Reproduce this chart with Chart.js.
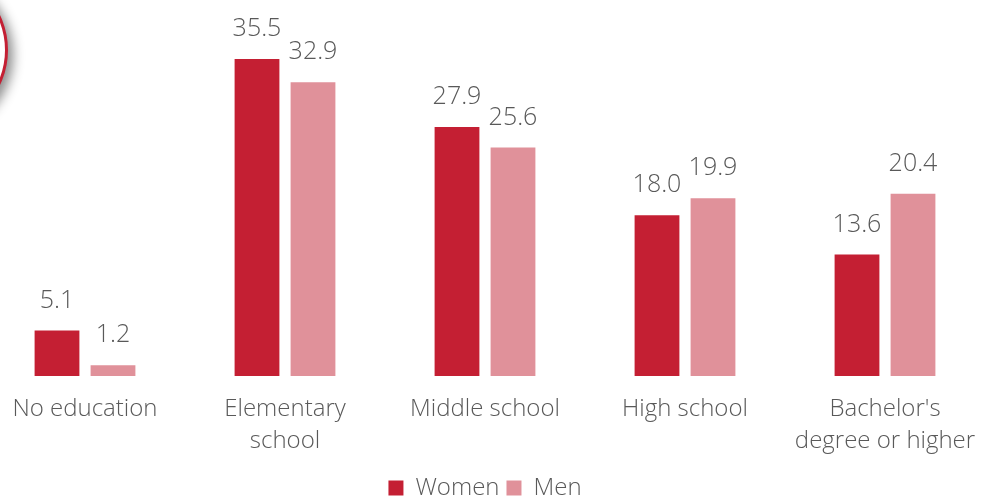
<!DOCTYPE html>
<html>
<head>
<meta charset="utf-8">
<script src="https://cdn.jsdelivr.net/npm/chart.js@4"></script>
<style>
    html, body { margin: 0; padding: 0; background: #fff; overflow: hidden; }
    body { width: 981px; height: 498px; position: relative; }
    .badge {
        position: absolute; left: -154px; top: -31px;
        width: 162px; height: 162px; box-sizing: border-box;
        border: 3px solid #c41f33; border-radius: 50%;
        background: #fff; box-shadow: 5px 5px 12px rgba(0,0,0,0.45);
    }
    .wrap { position: absolute; left: -15px; top: 0; width: 1000px; height: 510px; }
</style>
</head>
<body>
<div class="badge"></div>
<div class="wrap"><canvas id="eduChart"></canvas></div>
<script>
// Education level by sex (%)
const categories = ['No education', ['Elementary', 'school'], 'Middle school', 'High school', ["Bachelor's", 'degree or higher']];
const women = [5.1, 35.5, 27.9, 18.0, 13.6];
const men = [1.2, 32.9, 25.6, 19.9, 20.4];

const textColor = '#595959';
const fontFamily = '"Open Sans", "Noto Sans", sans-serif';

// Writes each bar's value above it
const valueLabels = {
    id: 'valueLabels',
    afterDatasetsDraw(chart) {
        const ctx = chart.ctx;
        ctx.save();
        ctx.font = '300 25px ' + fontFamily;
        ctx.fillStyle = textColor;
        ctx.textAlign = 'center';
        ctx.textBaseline = 'middle';
        chart.data.datasets.forEach((ds, i) => {
            chart.getDatasetMeta(i).data.forEach((bar, j) => {
                ctx.fillText(ds.data[j].toFixed(1), bar.x, bar.y - 30);
            });
        });
        ctx.restore();
    }
};

new Chart(document.getElementById('eduChart').getContext('2d'), {
    type: 'bar',
    data: {
        labels: categories,
        datasets: [
            {
                label: 'Women',
                data: women,
                backgroundColor: '#c41f33',
                categoryPercentage: 0.56,
                barPercentage: 0.8
            },
            {
                label: 'Men',
                data: men,
                backgroundColor: '#e0919a',
                categoryPercentage: 0.56,
                barPercentage: 0.8
            }
        ]
    },
    options: {
        responsive: true,
        maintainAspectRatio: false,
        animation: false,
        layout: { padding: { top: 1, left: 0, right: 0, bottom: 0 } },
        plugins: {
            tooltip: { enabled: false },
            legend: {
                position: 'bottom',
                labels: {
                    color: textColor,
                    font: { family: fontFamily, size: 24, weight: 300 },
                    boxWidth: 15,
                    boxHeight: 15,
                    padding: 7
                }
            }
        },
        scales: {
            x: {
                grid: { display: false, drawTicks: false },
                border: { display: false },
                ticks: {
                    color: textColor,
                    font: { family: fontFamily, size: 24, weight: 300, lineHeight: 1.3 },
                    padding: 18,
                    maxRotation: 0,
                    autoSkip: false
                },
                afterFit(scale) {
                    // keep the full width for the bars
                    scale.height = 93;
                    scale.paddingLeft = 0;
                    scale.paddingRight = 0;
                }
            },
            y: {
                display: false,
                min: 0,
                max: 42
            }
        }
    },
    plugins: [valueLabels]
});
</script>
</body>
</html>
